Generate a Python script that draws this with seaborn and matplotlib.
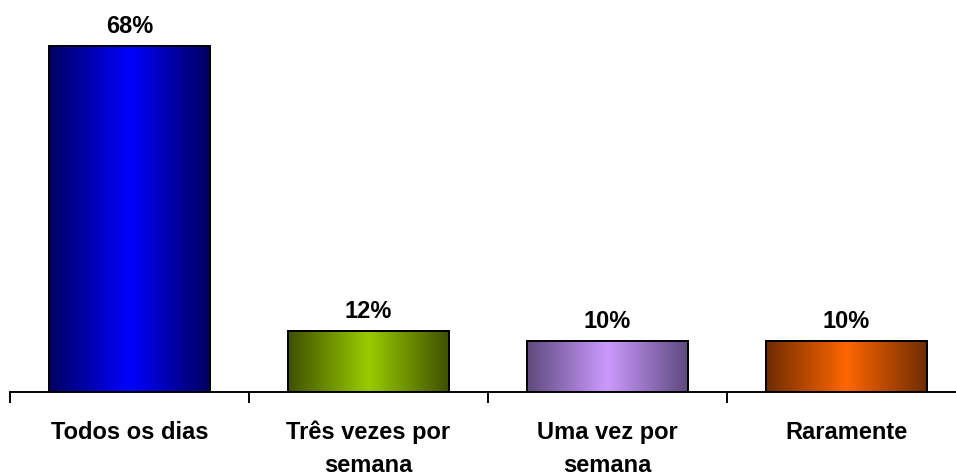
import numpy as np
import pandas as pd
import matplotlib
matplotlib.use("Agg")
import matplotlib.pyplot as plt
from matplotlib.colors import to_rgb
import seaborn as sns

categories = ["Todos os dias", "Três vezes por\nsemana", "Uma vez por\nsemana", "Raramente"]
values = [68, 12, 10, 10]
labels = ["68%", "12%", "10%", "10%"]
center_colors = ["#0000ff", "#99cc00", "#cc99ff", "#ff6600"]
edge_colors = ["#000060", "#3f5000", "#5e4a7e", "#6e2c00"]

sns.set_theme(style="white")
plt.rcParams["font.family"] = ["Liberation Sans", "DejaVu Sans"]
plt.rcParams["text.color"] = "black"
plt.rcParams["xtick.color"] = "black"

df = pd.DataFrame({"cat": categories, "val": values})

fig = plt.figure(figsize=(9.56, 4.77), dpi=100)
ax = fig.add_axes([10 / 956, 84 / 477, 956 / 956, 357 / 477])

sns.barplot(data=df, x="cat", y="val", hue="cat", palette=center_colors,
            width=0.67, edgecolor="black", linewidth=1.4, legend=False, ax=ax)

ax.set_ylim(0, 70.2)
ax.set_xlim(-0.5, 3.5)

# horizontal shading: dark at the sides, bright in the middle of each bar
t = np.linspace(0, 1, 256)
w = 1 - np.abs(2 * t - 1)
for patch, c0, c1 in zip(ax.patches, edge_colors, center_colors):
    a = np.array(to_rgb(c0))
    b = np.array(to_rgb(c1))
    grad = a[None, :] + (b - a)[None, :] * w[:, None]
    img = grad[None, :, :]
    x0, y0 = patch.get_x(), patch.get_y()
    x1, y1 = x0 + patch.get_width(), y0 + patch.get_height()
    im = ax.imshow(img, extent=[x0, x1, y0, y1], aspect="auto", zorder=patch.get_zorder() + 0.1,
                   interpolation="bilinear")
    im.set_clip_path(patch)
    outline = plt.Rectangle((x0, y0), x1 - x0, y1 - y0, fill=False, edgecolor="black",
                            linewidth=1.4, zorder=patch.get_zorder() + 0.2)
    ax.add_patch(outline)

for i, (v, lab) in enumerate(zip(values, labels)):
    ax.annotate(lab, (i, v), xytext=(0, 10), textcoords="offset points",
                ha="center", va="baseline", fontsize=17, fontweight="bold", color="black")

sns.despine(ax=ax, left=True, top=True, right=True)
ax.spines["bottom"].set_color("black")
ax.spines["bottom"].set_linewidth(1.4)
ax.set_yticks([])
ax.set_xlabel("")
ax.set_ylabel("")

ax.set_xticks([-0.5, 0.5, 1.5, 2.5, 3.5], minor=False)
ax.set_xticklabels([])
ax.tick_params(axis="x", which="major", direction="out", length=8, width=1.4, color="black", bottom=True)
ax.set_xticks(range(len(categories)), minor=True)
ax.set_xticklabels(categories, minor=True, fontsize=17, fontweight="bold", linespacing=1.55,
                   color="black")
ax.tick_params(axis="x", which="minor", length=0, pad=20)

fig.savefig("out.png", dpi=100, facecolor="white")
